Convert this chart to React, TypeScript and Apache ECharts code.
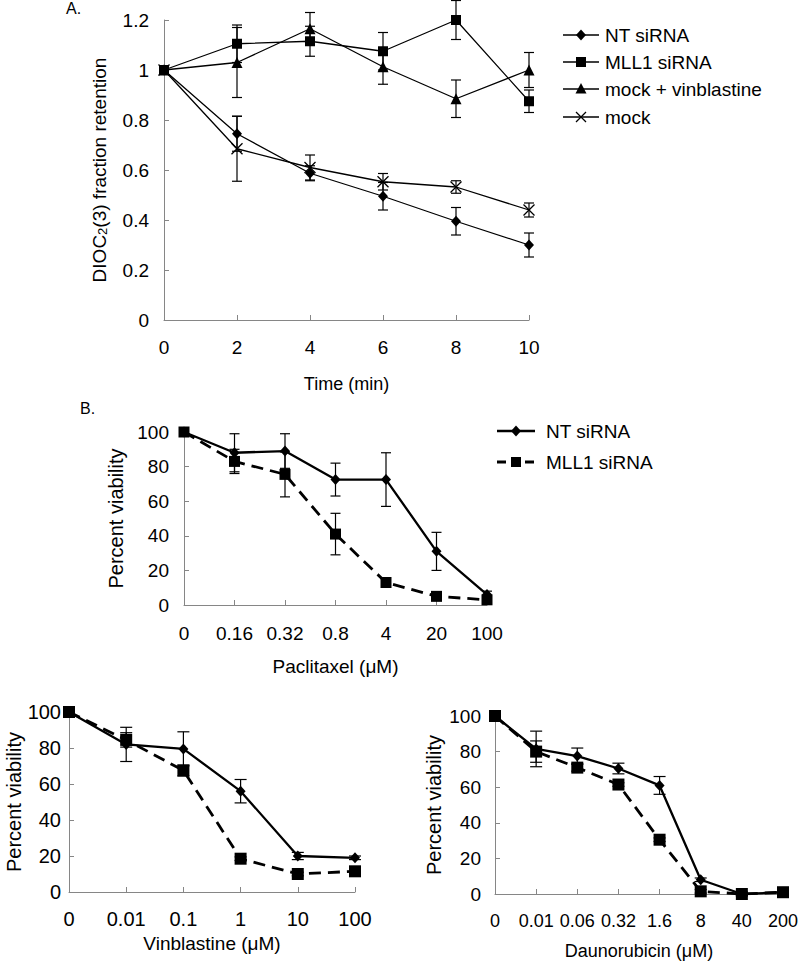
import React, { useEffect, useRef } from "react";
import * as echarts from "echarts";

// ---------- Panel A data ----------
const aTimes = ["0", "2", "4", "6", "8", "10"];
const aNT = [1, 0.745, 0.587, 0.495, 0.395, 0.3];
const aNTErr = [0, 0.07, 0.03, 0.055, 0.055, 0.048];
const aMLL1 = [1, 1.105, 1.115, 1.075, 1.2, 0.875];
const aMLL1Err = [0, 0.075, 0.06, 0.075, 0.078, 0.045];
const aVinb = [1, 1.03, 1.165, 1.013, 0.885, 1.0];
const aVinbErr = [0, 0.14, 0.065, 0.07, 0.075, 0.07];
const aMock = [1, 0.685, 0.61, 0.553, 0.532, 0.44];
const aMockErr = [0, 0.13, 0.05, 0.033, 0.025, 0.028];

// ---------- Panel B (Paclitaxel) ----------
const bDoses = ["0", "0.16", "0.32", "0.8", "4", "20", "100"];
const bNT = [100, 88, 89, 72.5, 72.5, 31, 6];
const bNTErr = [0, 11, 10, 9.5, 15.5, 11, 2];
const bMLL1 = [100, 83, 75.5, 41, 13, 5, 3];
const bMLL1Err = [0, 7, 13, 12, 1, 1, 1];

// ---------- Panel C (Vinblastine) ----------
const cDoses = ["0", "0.01", "0.1", "1", "10", "100"];
const cNT = [100, 82, 79.5, 56, 20, 19];
const cNTErr = [0, 9.5, 9.5, 6.5, 2, 1];
const cMLL1 = [100, 84.5, 67.5, 18.5, 10, 11.5];
const cMLL1Err = [0, 4, 3, 1, 1, 1];

// ---------- Panel D (Daunorubicin) ----------
const dDoses = ["0", "0.01", "0.06", "0.32", "1.6", "8", "40", "200"];
const dNT = [100, 81.5, 77.5, 70.5, 61, 8, 0, 1];
const dNTErr = [0, 10, 4.5, 3, 5, 1, 1, 1];
const dMLL1 = [100, 80, 71, 61.5, 30.5, 1.5, 0, 1];
const dMLL1Err = [0, 6, 2, 1, 1, 1, 1, 1];

const AXIS_COLOR = "#868686";
const FONT = "'Liberation Sans', Arial, sans-serif";

function mkX(gridIndex: number, data: string[], name: string, nameGap: number, nameSize: number, fontSize: number, margin: number) {
  return {
    type: "category",
    gridIndex,
    data,
    boundaryGap: false,
    name,
    nameLocation: "middle",
    nameGap,
    nameTextStyle: { color: "#000", fontSize: nameSize, fontFamily: FONT },
    axisLine: { lineStyle: { color: AXIS_COLOR, width: 1 } },
    axisTick: { show: true, inside: true, length: 5, interval: 0, lineStyle: { color: AXIS_COLOR } },
    axisLabel: { color: "#000", fontSize, margin, fontFamily: FONT, interval: 0, hideOverlap: false },
    splitLine: { show: false },
  };
}

function mkY(
  gridIndex: number,
  min: number,
  max: number,
  interval: number,
  name: string,
  nameGap: number,
  nameSize: number,
  fontSize: number,
  margin: number,
  rich?: any
) {
  return {
    type: "value",
    gridIndex,
    min,
    max,
    interval,
    name,
    nameLocation: "middle",
    nameGap,
    nameTextStyle: { color: "#000", fontSize: nameSize, fontFamily: FONT, rich },
    axisLine: { show: true, lineStyle: { color: AXIS_COLOR, width: 1 } },
    axisTick: { show: true, inside: true, length: 5, lineStyle: { color: AXIS_COLOR } },
    axisLabel: { color: "#000", fontSize, margin, fontFamily: FONT },
    splitLine: { show: false },
  };
}

function lineSeries(
  name: string,
  idx: number,
  data: number[],
  symbol: string,
  symbolSize: any,
  width: number,
  type: any = "solid",
  extraItem: any = {}
) {
  return {
    type: "line",
    name,
    xAxisIndex: idx,
    yAxisIndex: idx,
    data,
    symbol,
    symbolSize,
    showSymbol: true,
    lineStyle: { color: "#000", width, type },
    itemStyle: { color: "#000", ...extraItem },
    z: 4,
  };
}

function errSeries(idx: number, vals: number[], errs: number[], capHalf: number, lw: number) {
  const data: number[][] = [];
  vals.forEach((v, i) => {
    if (errs[i] > 0) data.push([i, v - errs[i], v + errs[i]]);
  });
  return {
    type: "custom",
    xAxisIndex: idx,
    yAxisIndex: idx,
    data,
    encode: { x: 0, y: [1, 2] },
    z: 3,
    silent: true,
    renderItem: (params: any, api: any) => {
      const x = api.value(0);
      const lo = api.coord([x, api.value(1)]);
      const hi = api.coord([x, api.value(2)]);
      const st = { stroke: "#000", lineWidth: lw };
      return {
        type: "group",
        children: [
          { type: "line", shape: { x1: lo[0], y1: lo[1], x2: hi[0], y2: hi[1] }, style: st },
          { type: "line", shape: { x1: lo[0] - capHalf, y1: lo[1], x2: lo[0] + capHalf, y2: lo[1] }, style: st },
          { type: "line", shape: { x1: hi[0] - capHalf, y1: hi[1], x2: hi[0] + capHalf, y2: hi[1] }, style: st },
        ],
      };
    },
  };
}

const X_PATH = "path://M0,0L10,10M10,0L0,10";

function legendRow(cx: number, x1: number, x2: number, y: number, marker: string, label: string, lw: number, dash: number[] | undefined, textX: number, fontSize = 19) {
  const items: any[] = [];
  items.push({
    type: "line",
    shape: { x1, y1: y, x2, y2: y },
    style: { stroke: "#000", lineWidth: lw, lineDash: dash || null },
  });
  if (marker === "diamond") {
    items.push({ type: "polygon", shape: { points: [[cx, y - 5.5], [cx + 5, y], [cx, y + 5.5], [cx - 5, y]] }, style: { fill: "#000" } });
  } else if (marker === "rect") {
    items.push({ type: "rect", shape: { x: cx - 5, y: y - 5, width: 10, height: 10 }, style: { fill: "#000" } });
  } else if (marker === "triangle") {
    items.push({ type: "polygon", shape: { points: [[cx, y - 6], [cx + 5.5, y + 4.5], [cx - 5.5, y + 4.5]] }, style: { fill: "#000" } });
  } else if (marker === "x") {
    items.push({ type: "line", shape: { x1: cx - 5, y1: y - 5, x2: cx + 5, y2: y + 5 }, style: { stroke: "#000", lineWidth: 1.3 } });
    items.push({ type: "line", shape: { x1: cx - 5, y1: y + 5, x2: cx + 5, y2: y - 5 }, style: { stroke: "#000", lineWidth: 1.3 } });
  }
  items.push({
    type: "text",
    x: textX,
    y,
    style: { text: label, fill: "#000", font: `${fontSize}px ${FONT}`, verticalAlign: "middle", align: "left" },
  });
  return items;
}

export default function App() {
  const ref = useRef<HTMLDivElement>(null);
  useEffect(() => {
    if (!ref.current) return;
    const chart = echarts.init(ref.current, null, { renderer: "svg" });
    const option: any = {
      animation: false,
      backgroundColor: "#fff",
      textStyle: { fontFamily: FONT },
      grid: [
        { left: 164, top: 20, width: 365, height: 300, containLabel: false, outerBoundsMode: "none" },
        { left: 184, top: 432, width: 303, height: 173, containLabel: false, outerBoundsMode: "none" },
        { left: 69, top: 712, width: 286, height: 180, containLabel: false, outerBoundsMode: "none" },
        { left: 495, top: 716, width: 288, height: 178, containLabel: false, outerBoundsMode: "none" },
      ],
      xAxis: [
        mkX(0, aTimes, "Time (min)", 55, 18, 19, 18),
        mkX(1, bDoses, "Paclitaxel (\u03bcM)", 52, 19, 19, 19),
        mkX(2, cDoses, "Vinblastine (\u03bcM)", 42, 19, 20, 17),
        mkX(3, dDoses, "Daunorubicin (\u03bcM)", 48, 18, 18, 18),
      ],
      yAxis: [
        mkY(0, 0, 1.2, 0.2, "DIOC{sub|2}(3) fraction retention", 55, 19, 19, 15, {
          sub: { fontSize: 13, verticalAlign: "bottom", fontFamily: FONT, color: "#000" },
        }),
        mkY(1, 0, 100, 20, "Percent viability", 58, 20, 19, 15),
        mkY(2, 0, 100, 20, "Percent viability", 45, 20, 20, 8),
        mkY(3, 0, 100, 20, "Percent viability", 51, 20, 19, 14),
      ],
      series: [
        // Panel A
        errSeries(0, aNT, aNTErr, 5, 1.2),
        errSeries(0, aMLL1, aMLL1Err, 5, 1.2),
        errSeries(0, aVinb, aVinbErr, 5, 1.2),
        errSeries(0, aMock, aMockErr, 5, 1.2),
        lineSeries("NT siRNA", 0, aNT, "diamond", [10, 11], 1.3),
        lineSeries("MLL1 siRNA", 0, aMLL1, "rect", 10, 1.3),
        lineSeries("mock + vinblastine", 0, aVinb, "triangle", 11, 1.3),
        lineSeries("mock", 0, aMock, X_PATH, 11, 1.3, "solid", { color: "#000", borderColor: "#000", borderWidth: 1.3 }),
        // Panel B
        errSeries(1, bNT, bNTErr, 5, 1.2),
        errSeries(1, bMLL1, bMLL1Err, 5, 1.2),
        lineSeries("NT siRNA", 1, bNT, "diamond", [10, 11], 2.3),
        lineSeries("MLL1 siRNA", 1, bMLL1, "rect", 11, 2.8, [12, 7]),
        // Panel C
        errSeries(2, cNT, cNTErr, 6, 1.2),
        errSeries(2, cMLL1, cMLL1Err, 6, 1.2),
        lineSeries("NT siRNA", 2, cNT, "diamond", [10, 11], 2.3),
        lineSeries("MLL1 siRNA", 2, cMLL1, "rect", 12, 2.8, [12, 7]),
        // Panel D
        errSeries(3, dNT, dNTErr, 6, 1.2),
        errSeries(3, dMLL1, dMLL1Err, 6, 1.2),
        lineSeries("NT siRNA", 3, dNT, "diamond", [10, 11], 2.3),
        lineSeries("MLL1 siRNA", 3, dMLL1, "rect", 12, 2.8, [12, 7]),
      ],
      graphic: [
        { type: "text", x: 66, y: 0, style: { text: "A.", fill: "#000", font: `16px ${FONT}` } },
        { type: "text", x: 80, y: 400, style: { text: "B.", fill: "#000", font: `16px ${FONT}` } },
        ...legendRow(581, 563, 599, 35, "diamond", "NT siRNA", 1.3, undefined, 605),
        ...legendRow(581, 563, 599, 62, "rect", "MLL1 siRNA", 1.3, undefined, 605),
        ...legendRow(581, 563, 599, 89, "triangle", "mock + vinblastine", 1.3, undefined, 605),
        ...legendRow(581, 563, 599, 117, "x", "mock", 1.3, undefined, 605),
        ...legendRow(516, 497, 535, 431, "diamond", "NT siRNA", 2.3, undefined, 546),
        ...legendRow(516, 497, 535, 462, "rect", "MLL1 siRNA", 2.8, [9, 5], 546),
      ],
    };
    chart.setOption(option);
    return () => chart.dispose();
  }, []);
  return (
    <div
      ref={ref}
      style={{ position: "fixed", left: 0, top: 0, width: 800, height: 963, background: "#fff" }}
    />
  );
}
